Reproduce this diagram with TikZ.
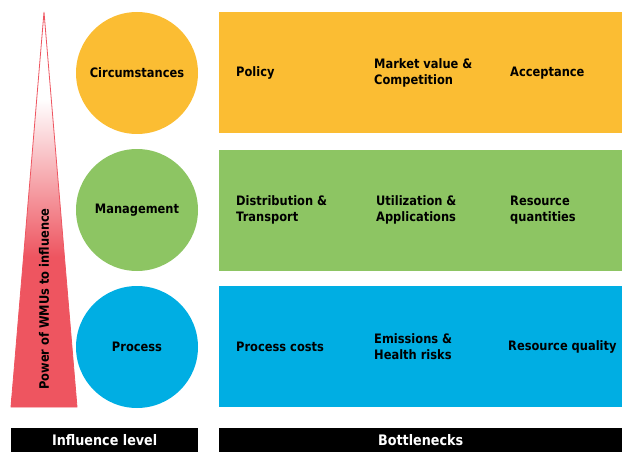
\documentclass[tikz,border=0pt]{standalone}
\usepackage{fontspec}
\setmainfont{DejaVu Sans}[FakeStretch=0.88]
\definecolor{cyel}{HTML}{FBBD33}
\definecolor{cgrn}{HTML}{8DC563}
\definecolor{cblu}{HTML}{00AEE3}
\definecolor{cred}{HTML}{EE5560}
\pgfdeclareverticalshading{trishade}{100bp}{color(0bp)=(cred); color(44bp)=(cred); color(64bp)=(white); color(100bp)=(white)}
\begin{document}
\begin{tikzpicture}[x=1pt,y=-1pt,
  lbl/.style={font=\bfseries\fontsize{13}{16}\selectfont, text=black, inner sep=0pt, anchor=west, align=left},
  circ/.style={circle, minimum size=122pt, inner sep=0pt, font=\bfseries\fontsize{13}{16}\selectfont},
  band/.style={inner sep=0pt, anchor=north west, minimum width=403pt, minimum height=121pt},
  bar/.style={fill=black, inner sep=0pt, anchor=north west, minimum height=24pt, text=white, font=\bfseries\fontsize{14.5}{16}\selectfont}]
\useasboundingbox (0,0) rectangle (622,452);
% triangle
\path[draw=cred, line width=0.8pt, shading=trishade] (44,12) -- (77,407) -- (11,407) -- cycle;
\node[rotate=90, anchor=west, inner sep=0pt, font=\bfseries\fontsize{13}{16}\selectfont] (pow) at (44,390) {Power of WMUs to influence};
% circles
\node[circ, fill=cyel] (c1) at (137,73) {Circumstances};
\node[circ, fill=cgrn] (c2) at (137,210) {Management};
\node[circ, fill=cblu] (c3) at (137,347) {Process};
% bands
\node[band, fill=cyel] (b1) at (219,12) {};
\node[band, fill=cgrn] (b2) at (219,149.5) {};
\node[band, fill=cblu] (b3) at (219,286) {};
% labels
\node[lbl] (p1) at (236,73) {Policy};
\node[lbl] (p2) at (374,73) {Market value \&\\Competition};
\node[lbl] (p3) at (510,73) {Acceptance};
\node[lbl] (m1) at (236,210) {Distribution \&\\Transport};
\node[lbl] (m2) at (376,210) {Utilization \&\\Applications};
\node[lbl] (m3) at (510,210) {Resource\\quantities};
\node[lbl] (r1) at (236,347) {Process costs};
\node[lbl] (r2) at (374,347) {Emissions \&\\Health risks};
\node[lbl] (r3) at (508,347) {Resource quality};
% bars
\node[bar, minimum width=187pt] (il) at (11,428) {Influence level};
\node[bar, minimum width=403pt] (bn) at (219,428) {Bottlenecks};
\end{tikzpicture}
\end{document}
